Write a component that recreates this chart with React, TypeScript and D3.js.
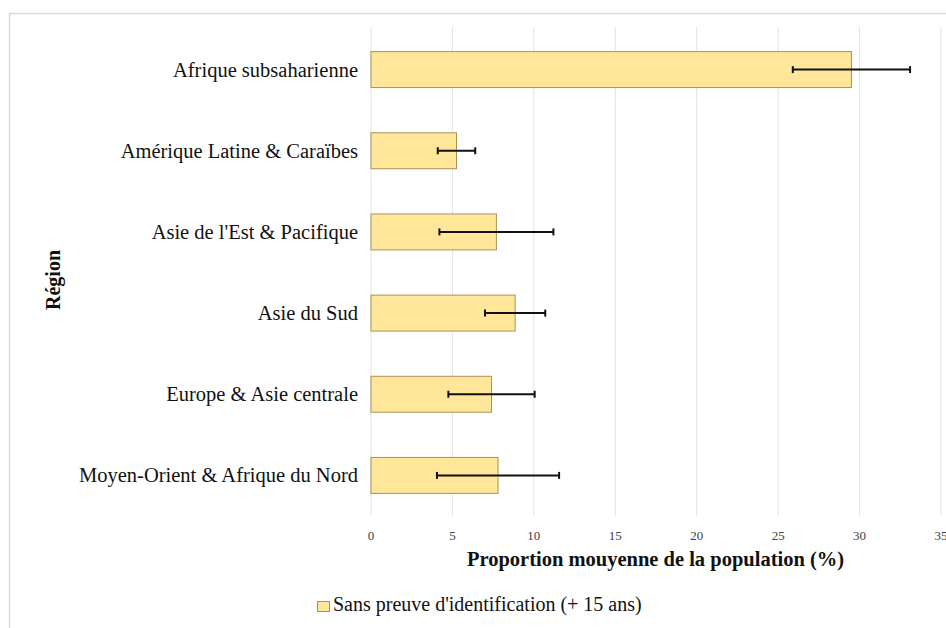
import React from "react";
import * as d3 from "d3";

const categories = [
  "Afrique subsaharienne",
  "Amérique Latine & Caraïbes",
  "Asie de l'Est & Pacifique",
  "Asie du Sud",
  "Europe & Asie centrale",
  "Moyen-Orient & Afrique du Nord",
];
const values = [29.5, 5.25, 7.7, 8.85, 7.4, 7.8];
const errors = [3.6, 1.15, 3.5, 1.85, 2.65, 3.75];
const xTicks = [0, 5, 10, 15, 20, 25, 30, 35];
const xTitle = "Proportion mouyenne de la population (%)";
const yTitle = "Région";
const legendLabel = "Sans preuve d'identification (+ 15 ans)";

const W = 946;
const H = 628;
const FONT = "'Liberation Serif', 'Times New Roman', serif";

export default function App() {
  const x = d3.scaleLinear().domain([0, 35]).range([371, 941]);
  const y = d3
    .scaleBand<string>()
    .domain(categories)
    .range([29, 516])
    .paddingInner(0.557)
    .paddingOuter(0.2785);
  const bh = y.bandwidth();

  return (
    <svg
      width={W}
      height={H}
      style={{ position: "absolute", left: 0, top: 0, background: "#fff" }}
      fontFamily={FONT}
    >
      <rect x={9.5} y={13.5} width={1000} height={700} fill="#fff" stroke="#d9d9d9" strokeWidth={1.5} />
      {xTicks.map((t) => (
        <line key={"g" + t} x1={x(t)} x2={x(t)} y1={27} y2={516} stroke="#e3e3e3" strokeWidth={1} />
      ))}
      {xTicks.map((t) => (
        <text key={"t" + t} x={x(t)} y={540} fontSize={13} textAnchor="middle" fill="#404040">
          {t}
        </text>
      ))}
      {categories.map((c, i) => {
        const y0 = y(c)!;
        const cy = y0 + bh / 2;
        const lo = x(values[i] - errors[i]);
        const hi = x(values[i] + errors[i]);
        return (
          <g key={c}>
            <rect
              x={x(0)}
              y={y0}
              width={x(values[i]) - x(0)}
              height={bh}
              fill="#FFE699"
              stroke="#A89254"
              strokeWidth={1}
            />
            <line x1={lo} x2={hi} y1={cy} y2={cy} stroke="#111" strokeWidth={2} />
            <line x1={lo} x2={lo} y1={cy - 3.5} y2={cy + 3.5} stroke="#111" strokeWidth={2} />
            <line x1={hi} x2={hi} y1={cy - 3.5} y2={cy + 3.5} stroke="#111" strokeWidth={2} />
            <text x={358} y={cy + 7} fontSize={20.5} textAnchor="end" fill="#111">
              {c}
            </text>
          </g>
        );
      })}
      <text x={655.5} y={566} fontSize={20.5} fontWeight="bold" textAnchor="middle" fill="#111">
        {xTitle}
      </text>
      <text
        transform={`translate(60,${280}) rotate(-90)`}
        fontSize={20}
        fontWeight="bold"
        textAnchor="middle"
        fill="#111"
      >
        {yTitle}
      </text>
      <rect x={317.5} y={601.5} width={12} height={10} fill="#FFE699" stroke="#A89254" strokeWidth={1} />
      <text x={333} y={610.5} fontSize={20} fill="#111">
        {legendLabel}
      </text>
    </svg>
  );
}
